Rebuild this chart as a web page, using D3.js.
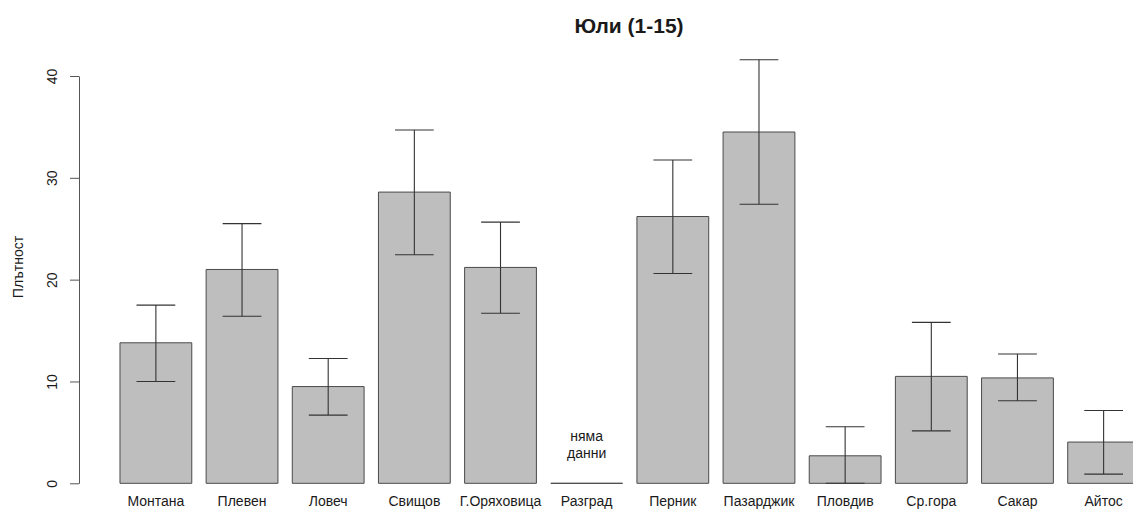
<!DOCTYPE html>
<html>
<head>
<meta charset="utf-8">
<script src="https://cdn.jsdelivr.net/npm/d3@7"></script>
<style>
  html, body { margin: 0; padding: 0; background: #ffffff; }
  svg text { font-family: "Liberation Sans", Arial, sans-serif; fill: #1a1a1a; }
</style>
</head>
<body>
<svg id="chart" width="1133" height="520"></svg>
<script>
// Stations, mean density and confidence limits for 1–15 July
const categories = ["Монтана", "Плевен", "Ловеч", "Свищов", "Г.Оряховица", "Разград",
                    "Перник", "Пазарджик", "Пловдив", "Ср.гора", "Сакар", "Айтос"];
const means = [13.8, 21.0, 9.5, 28.6, 21.2, 0, 26.2, 34.5, 2.7, 10.5, 10.35, 4.05];
const upper = [17.5, 25.5, 12.25, 34.7, 25.65, null, 31.75, 41.6, 5.55, 15.8, 12.7, 7.15];
const lower = [10.0, 16.4, 6.7, 22.45, 16.7, null, 20.6, 27.4, 0, 5.15, 8.1, 0.9];
const missing = ["Разград"];
const yTicks = [0, 10, 20, 30, 40];

const rows = categories.map((c, i) => ({ name: c, mean: means[i], hi: upper[i], lo: lower[i] }));

const svg = d3.select("#chart");

const x = d3.scaleBand()
  .domain(categories)
  .range([112.8, 1146.7])
  .paddingInner(1 / 6)
  .paddingOuter(1 / 12);

const y = d3.scaleLinear().domain([0, 40]).range([483.3, 76]);

// Bars as closed outlines, so an empty bar still shows as a line on the baseline
svg.append("g")
  .selectAll("path")
  .data(rows)
  .join("path")
  .attr("d", d => {
    const p = d3.path();
    const x0 = x(d.name), x1 = x0 + x.bandwidth();
    p.moveTo(x0, y(0));
    p.lineTo(x0, y(d.mean));
    p.lineTo(x1, y(d.mean));
    p.lineTo(x1, y(0));
    p.closePath();
    return p.toString();
  })
  .attr("fill", "#bebebe")
  .attr("stroke", "#4a4a4a")
  .attr("stroke-width", 1);

// Error bars
const capHalf = x.bandwidth() * 0.27;
const eb = svg.append("g")
  .attr("stroke", "#333333")
  .attr("stroke-width", 1.1)
  .selectAll("g")
  .data(rows.filter(d => d.hi !== null))
  .join("g");

eb.append("line")
  .attr("x1", d => x(d.name) + x.bandwidth() / 2)
  .attr("x2", d => x(d.name) + x.bandwidth() / 2)
  .attr("y1", d => y(d.lo))
  .attr("y2", d => y(d.hi));
eb.append("line")
  .attr("x1", d => x(d.name) + x.bandwidth() / 2 - capHalf)
  .attr("x2", d => x(d.name) + x.bandwidth() / 2 + capHalf)
  .attr("y1", d => y(d.hi))
  .attr("y2", d => y(d.hi));
eb.append("line")
  .attr("x1", d => x(d.name) + x.bandwidth() / 2 - capHalf)
  .attr("x2", d => x(d.name) + x.bandwidth() / 2 + capHalf)
  .attr("y1", d => y(d.lo))
  .attr("y2", d => y(d.lo));

// "no data" note above the empty station
missing.forEach(name => {
  const cx = x(name) + x.bandwidth() / 2;
  const t = svg.append("text")
    .attr("x", cx)
    .attr("y", 441)
    .attr("text-anchor", "middle")
    .style("font-size", "14px");
  t.append("tspan").attr("x", cx).text("няма");
  t.append("tspan").attr("x", cx).attr("dy", 17).text("данни");
});

// Category labels
svg.append("g")
  .selectAll("text")
  .data(categories)
  .join("text")
  .attr("x", d => x(d) + x.bandwidth() / 2)
  .attr("y", 506)
  .attr("text-anchor", "middle")
  .style("font-size", "14px")
  .text(d => d);

// Y axis
const yAxis = svg.append("g")
  .attr("transform", "translate(79,0)")
  .call(d3.axisLeft(y).tickValues(yTicks).tickSize(9).tickSizeOuter(0).tickFormat(d3.format("d")));
yAxis.select(".domain").attr("stroke", "#555555");
yAxis.selectAll(".tick line").attr("stroke", "#555555");
yAxis.selectAll(".tick text")
  .attr("x", null).attr("y", null).attr("dy", null)
  .attr("text-anchor", "middle")
  .attr("transform", "translate(-22,0) rotate(-90)")
  .style("font-size", "14px")
  .style("font-family", "'Liberation Sans', Arial, sans-serif")
  .attr("fill", "#1a1a1a");

// Y title
svg.append("text")
  .attr("transform", "translate(23,267) rotate(-90)")
  .attr("text-anchor", "middle")
  .style("font-size", "14px")
  .text("Плътност");

// Title
svg.append("text")
  .attr("x", 629)
  .attr("y", 33)
  .attr("text-anchor", "middle")
  .style("font-size", "21px")
  .style("font-weight", "bold")
  .text("Юли (1-15)");
</script>
</body>
</html>
